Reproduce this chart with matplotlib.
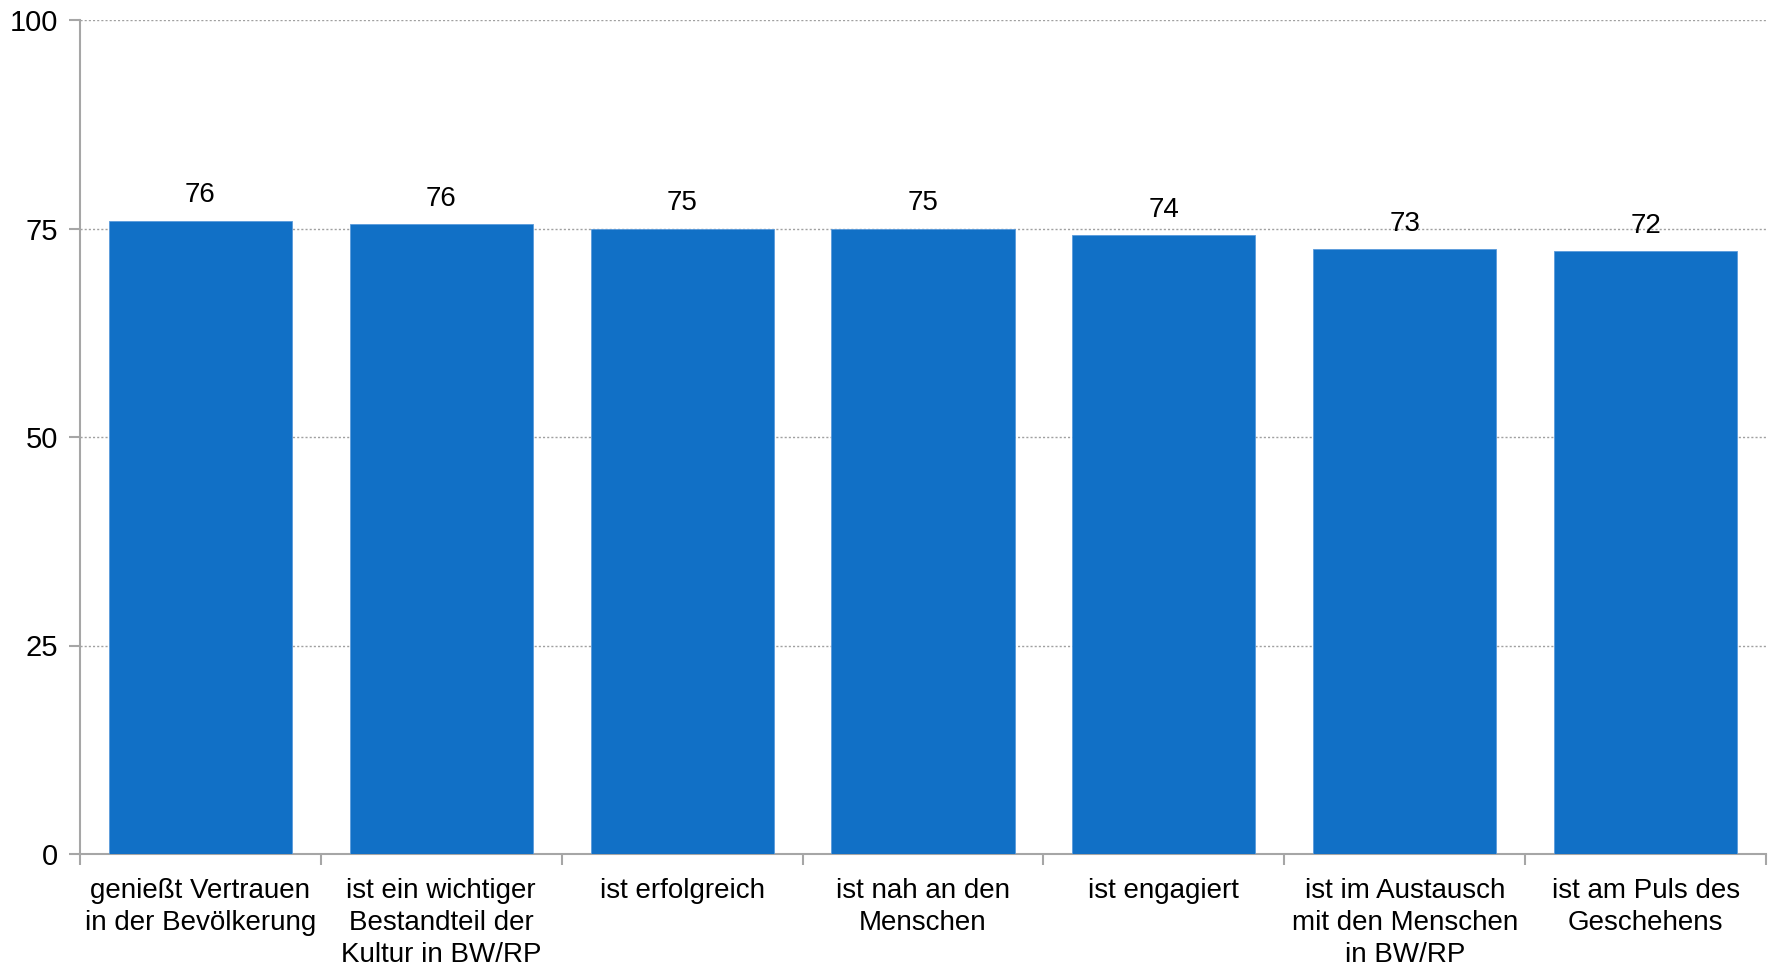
import matplotlib
matplotlib.use("Agg")
import matplotlib.pyplot as plt
import numpy as np

categories = [
    "genießt Vertrauen\nin der Bevölkerung",
    "ist ein wichtiger\nBestandteil der\nKultur in BW/RP",
    "ist erfolgreich",
    "ist nah an den\nMenschen",
    "ist engagiert",
    "ist im Austausch\nmit den Menschen\nin BW/RP",
    "ist am Puls des\nGeschehens",
]
values = [75.9, 75.5, 75.0, 75.0, 74.2, 72.5, 72.25]
value_labels = ["76", "76", "75", "75", "74", "73", "72"]
yticks = [0, 25, 50, 75, 100]

plt.rcParams['font.family'] = ['Liberation Sans', 'DejaVu Sans']

fig = plt.figure(figsize=(17.73, 9.66), dpi=100)
ax = fig.add_axes([80/1773, 1 - 854/966, (1766-80)/1773, (854-20)/966])

x = np.arange(len(categories))
bars = ax.bar(x, values, width=0.76, color='#1170C6', edgecolor='#5A9BDB', linewidth=0.6, zorder=3)
for xi, v, lab in zip(x, values, value_labels):
    ax.annotate(lab, (xi, v), xytext=(0, 9), textcoords='offset points',
                ha='center', va='bottom', fontsize=20, color='black', zorder=4)

ax.set_xlim(-0.5, len(categories) - 0.5)
ax.set_ylim(0, 100)
ax.set_yticks(yticks)
ax.set_yticklabels([str(t) for t in yticks], fontsize=21)
ax.yaxis.grid(True, linestyle=(0, (1.5, 1.5)), color='#A0A0A0', linewidth=1.0, zorder=0)

ax.set_xticks(np.arange(len(categories) + 1) - 0.5)
ax.set_xticklabels([])
ax.set_xticks(x, minor=True)
ax.set_xticklabels(categories, minor=True, fontsize=20, linespacing=1.3)
ax.tick_params(axis='x', which='minor', length=0, pad=17)
ax.tick_params(axis='x', which='major', length=8, color='#A6A6A6', width=1.5)
ax.tick_params(axis='y', length=8, color='#A6A6A6', width=1.5, pad=8)

for s in ['top', 'right']:
    ax.spines[s].set_visible(False)
for s in ['left', 'bottom']:
    ax.spines[s].set_color('#A6A6A6')
    ax.spines[s].set_linewidth(1.5)

fig.savefig("out.png", dpi=100)
